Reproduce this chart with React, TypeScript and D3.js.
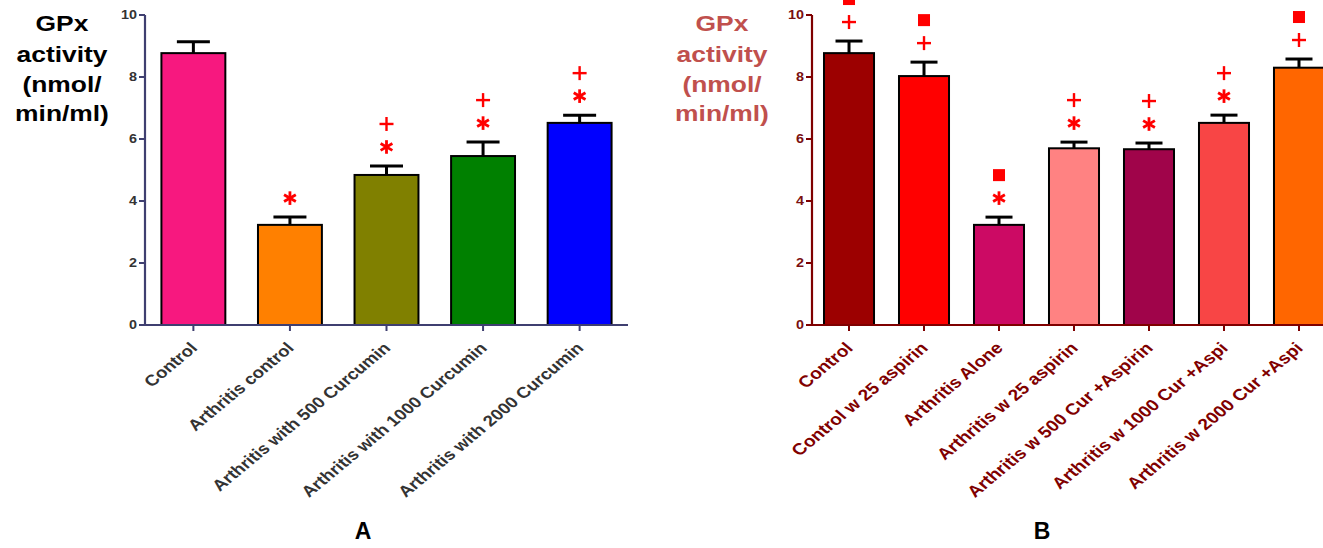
import React from "react";
import * as d3 from "d3";

// ---------- Data ----------
const catsA = [
  "Control",
  "Arthritis control",
  "Arthritis with 500 Curcumin",
  "Arthritis with 1000 Curcumin",
  "Arthritis with 2000 Curcumin",
];
const meansA = [8.77, 3.23, 4.84, 5.45, 6.52];
const semA = [0.37, 0.25, 0.29, 0.45, 0.25];
const marksA: string[][] = [[], ["*"], ["*", "+"], ["*", "+"], ["*", "+"]];
const colorsA = ["#f7187f", "#ff8000", "#808000", "#008000", "#0000ff"];

const catsB = [
  "Control",
  "Control w 25 aspirin",
  "Arthritis Alone",
  "Arthritis w 25 aspirin",
  "Arthritis w 500 Cur +Aspirin",
  "Arthritis w 1000 Cur +Aspi",
  "Arthritis w 2000 Cur +Aspi",
];
const meansB = [8.77, 8.03, 3.23, 5.7, 5.67, 6.52, 8.3];
const semB = [0.39, 0.45, 0.25, 0.2, 0.2, 0.25, 0.28];
const marksB: string[][] = [
  ["+", "sq"],
  ["+", "sq"],
  ["*", "sq"],
  ["*", "+"],
  ["*", "+"],
  ["*", "+"],
  ["+", "sq"],
];
const colorsB = ["#9c0000", "#ff0000", "#cc0a64", "#ff8282", "#a0044a", "#f84545", "#ff6600"];

const yTicks = [0, 2, 4, 6, 8, 10];
const yLabelLines = ["GPx", "activity", "(nmol/", "min/ml)"];

// ---------- Layout ----------
const W = 1323;
const H = 548;
const SX = 1.2;
const RED = "#ff0000";

type PanelProps = {
  cats: string[];
  means: number[];
  sems: number[];
  marks: string[][];
  colors: string[];
  x0: number;
  x1: number;
  padInner: number;
  padOuter: number;
  capW: number;
  axisColor: string;
  tickTextColor: string;
  catTextColor: string;
  catFont: number;
  yLabelColor: string;
  yLabelX: number;
  letter: string;
  letterX: number;
};

function Mark({ kind, x, y }: { kind: string; x: number; y: number }) {
  if (kind === "+") {
    const r = 7;
    return (
      <g stroke={RED} strokeWidth={2.4}>
        <line x1={x - r} x2={x + r} y1={y} y2={y} />
        <line x1={x} x2={x} y1={y - r} y2={y + r} />
      </g>
    );
  }
  if (kind === "*") {
    const r = 6.8;
    const angs = [90, 30, 150];
    return (
      <g stroke={RED} strokeWidth={2.8}>
        {angs.map((a) => {
          const rad = (a * Math.PI) / 180;
          const dx = r * Math.cos(rad);
          const dy = r * Math.sin(rad);
          return <line key={a} x1={x - dx} x2={x + dx} y1={y - dy} y2={y + dy} />;
        })}
      </g>
    );
  }
  const s = 12;
  return <rect x={x - s / 2} y={y - s / 2} width={s} height={s} fill={RED} />;
}

function Panel(p: PanelProps) {
  const y = d3.scaleLinear().domain([0, 10]).range([325, 15]);
  const x = d3
    .scaleBand<string>()
    .domain(p.cats)
    .range([p.x0, p.x1])
    .paddingInner(p.padInner)
    .paddingOuter(p.padOuter);
  const bw = x.bandwidth();
  const axX = p.x0;
  const y0 = y(0);

  return (
    <g fontFamily="'Liberation Sans', Arial, sans-serif" fontWeight="bold">
      {/* y label */}
      {yLabelLines.map((t, i) => (
        <text
          key={t}
          transform={`translate(${p.yLabelX},${[31, 62, 92, 121][i]}) scale(${SX},1)`}
          textAnchor="middle"
          fontSize={22}
          fill={p.yLabelColor}
        >
          {t}
        </text>
      ))}

      {/* bars */}
      {p.cats.map((c, i) => {
        const cx = (x(c) as number) + bw / 2;
        const top = y(p.means[i]);
        const et = y(p.means[i] + p.sems[i]);
        return (
          <g key={c}>
            <rect
              x={x(c) as number}
              y={top}
              width={bw}
              height={y0 - top}
              fill={p.colors[i]}
              stroke="#000"
              strokeWidth={2}
            />
            <line x1={cx} x2={cx} y1={top} y2={et} stroke="#000" strokeWidth={3} />
            <line
              x1={cx - p.capW / 2}
              x2={cx + p.capW / 2}
              y1={et}
              y2={et}
              stroke="#000"
              strokeWidth={3}
            />
            {p.marks[i].map((m, k) => (
              <Mark key={k} kind={m} x={cx} y={et - 19 - k * 23} />
            ))}
          </g>
        );
      })}

      {/* y axis */}
      <line x1={axX} x2={axX} y1={y(10)} y2={y0} stroke={p.axisColor} strokeWidth={2.2} />
      {yTicks.map((t) => (
        <g key={t}>
          <line x1={axX - 6} x2={axX} y1={y(t)} y2={y(t)} stroke={p.axisColor} strokeWidth={2} />
          <text
            transform={`translate(${axX - 8},${y(t) + 4.3}) scale(${SX},1)`}
            textAnchor="end"
            fontSize={12}
            fill={p.tickTextColor}
          >
            {t}
          </text>
        </g>
      ))}

      {/* x axis */}
      <line x1={axX} x2={p.x1} y1={y0} y2={y0} stroke={p.axisColor} strokeWidth={2.2} />
      {p.cats.map((c) => {
        const cx = (x(c) as number) + bw / 2;
        return (
          <g key={c}>
            <line x1={cx} x2={cx} y1={y0} y2={y0 + 6} stroke={p.axisColor} strokeWidth={2} />
            <text
              transform={`translate(${cx + 5},${y0 + 24}) scale(${SX},1) rotate(-45)`}
              textAnchor="end"
              fontSize={p.catFont}
              fill={p.catTextColor}
            >
              {c}
            </text>
          </g>
        );
      })}

      <text x={p.letterX} y={539} textAnchor="middle" fontSize={23} fill="#000">
        {p.letter}
      </text>
    </g>
  );
}

export default function App() {
  return (
    <div style={{ position: "absolute", left: 0, top: 0 }}>
      <svg width={W} height={H} viewBox={`0 0 ${W} ${H}`} style={{ display: "block", background: "#fff" }}>
        <Panel
          cats={catsA}
          means={meansA}
          sems={semA}
          marks={marksA}
          colors={colorsA}
          x0={145}
          x1={628}
          padInner={0.338}
          padOuter={0.17}
          capW={33}
          axisColor="#3f3f70"
          tickTextColor="#333333"
          catTextColor="#333333"
          catFont={15.5}
          yLabelColor="#000000"
          yLabelX={62}
          letter="A"
          letterX={363}
        />
        <Panel
          cats={catsB}
          means={meansB}
          sems={semB}
          marks={marksB}
          colors={colorsB}
          x0={812}
          x1={1336}
          padInner={0.333}
          padOuter={0.16}
          capW={27}
          axisColor="#7f0000"
          tickTextColor="#7a1010"
          catTextColor="#800000"
          catFont={16}
          yLabelColor="#c0504d"
          yLabelX={722}
          letter="B"
          letterX={1042}
        />
      </svg>
    </div>
  );
}
